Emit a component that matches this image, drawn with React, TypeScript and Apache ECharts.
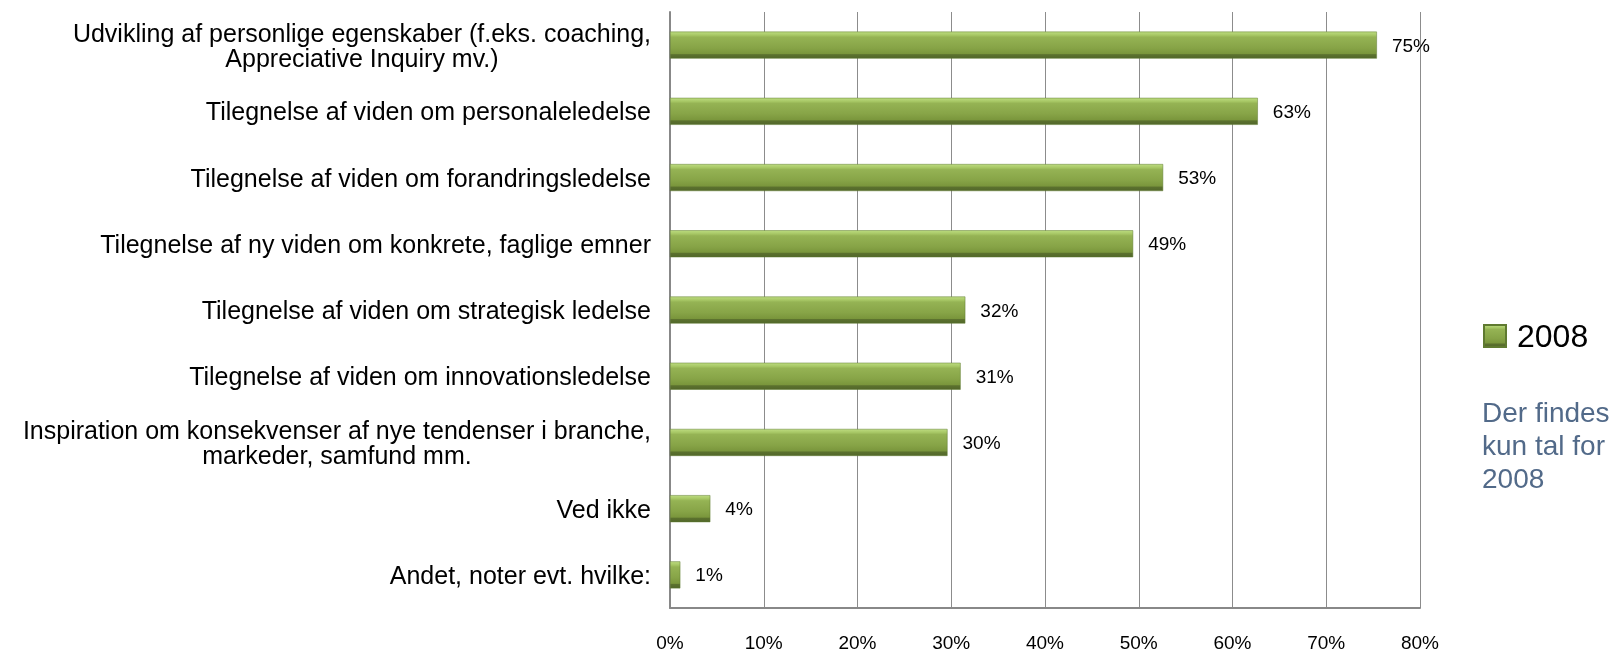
import React, { useEffect, useRef } from "react";
import * as echarts from "echarts";

const categories: string[] = [
  "Udvikling af personlige egenskaber (f.eks. coaching,\nAppreciative Inquiry mv.)",
  "Tilegnelse af viden om personaleledelse",
  "Tilegnelse af viden om forandringsledelse",
  "Tilegnelse af ny viden om konkrete, faglige emner",
  "Tilegnelse af viden om strategisk ledelse",
  "Tilegnelse af viden om innovationsledelse",
  "Inspiration om konsekvenser af nye tendenser i branche,\nmarkeder, samfund mm.",
  "Ved ikke",
  "Andet, noter evt. hvilke:",
];

const values2008: number[] = [75.4, 62.7, 52.6, 49.4, 31.5, 31.0, 29.6, 4.3, 1.1];

const seriesName = "2008";
const xTicks = { min: 0, max: 80, interval: 10 };
const noteText = "Der findes\nkun tal for\n2008";

export default function App() {
  const ref = useRef<HTMLDivElement>(null);

  useEffect(() => {
    if (!ref.current) return;
    const chart = echarts.init(ref.current, undefined, { renderer: "svg" });
    const barGradient = new echarts.graphic.LinearGradient(0, 0, 0, 1, [
      { offset: 0, color: "#bddc80" },
      { offset: 0.13, color: "#a6c664" },
      { offset: 0.2, color: "#95b354" },
      { offset: 0.6, color: "#87a447" },
      { offset: 0.82, color: "#7a963c" },
      { offset: 0.86, color: "#5b712e" },
      { offset: 1, color: "#52672a" },
    ]);
    const font = "Liberation Sans, Arial, sans-serif";
    chart.setOption({
      animation: false,
      grid: { left: 670, right: 198, top: 12, bottom: 44, containLabel: false },
      legend: {
        orient: "vertical",
        left: 1478,
        top: 315,
        itemWidth: 22,
        itemHeight: 22,
        itemGap: 10,
        icon: "rect",
        data: [seriesName],
        textStyle: {
          fontSize: 32,
          lineHeight: 32,
          color: "#000",
          fontFamily: font,
          padding: [0, 0, 0, 6],
        },
      },
      xAxis: {
        type: "value",
        min: xTicks.min,
        max: xTicks.max,
        interval: xTicks.interval,
        axisLine: { show: true, lineStyle: { color: "#888", width: 2 } },
        axisTick: { show: false },
        splitLine: { show: true, lineStyle: { color: "#8c8c8c", width: 1 } },
        axisLabel: {
          formatter: "{value}%",
          fontSize: 19,
          color: "#000",
          margin: 25,
          fontFamily: font,
        },
      },
      yAxis: {
        type: "category",
        inverse: true,
        data: categories,
        axisLine: { show: true, lineStyle: { color: "#888", width: 2 } },
        axisTick: { show: false },
        splitLine: { show: false },
        axisLabel: {
          margin: 19,
          color: "#000",
          fontSize: 25,
          lineHeight: 25,
          fontFamily: font,
          formatter: (v: string) =>
            v
              .split("\n")
              .map((l) => "{c|" + l + "}")
              .join("\n"),
          rich: {
            c: {
              align: "center",
              fontSize: 25,
              lineHeight: 25,
              color: "#000",
              fontFamily: font,
            },
          },
        },
      },
      series: [
        {
          name: seriesName,
          type: "bar",
          data: values2008,
          barWidth: 27,
          itemStyle: { color: barGradient, borderColor: "#5f7a30", borderWidth: 0.5 },
          label: {
            show: true,
            position: "right",
            distance: 15,
            fontSize: 19,
            color: "#000",
            fontFamily: font,
            formatter: (p: any) => Math.round(p.value) + "%",
          },
        },
      ],
      graphic: [
        {
          type: "text",
          left: 1482,
          top: 396,
          style: {
            text: noteText,
            fontSize: 28,
            lineHeight: 33,
            fill: "#526a89",
            fontFamily: font,
          },
        },
      ],
    });
    return () => chart.dispose();
  }, []);

  return (
    <div
      ref={ref}
      style={{ position: "fixed", left: 0, top: 0, width: 1618, height: 652 }}
    />
  );
}
